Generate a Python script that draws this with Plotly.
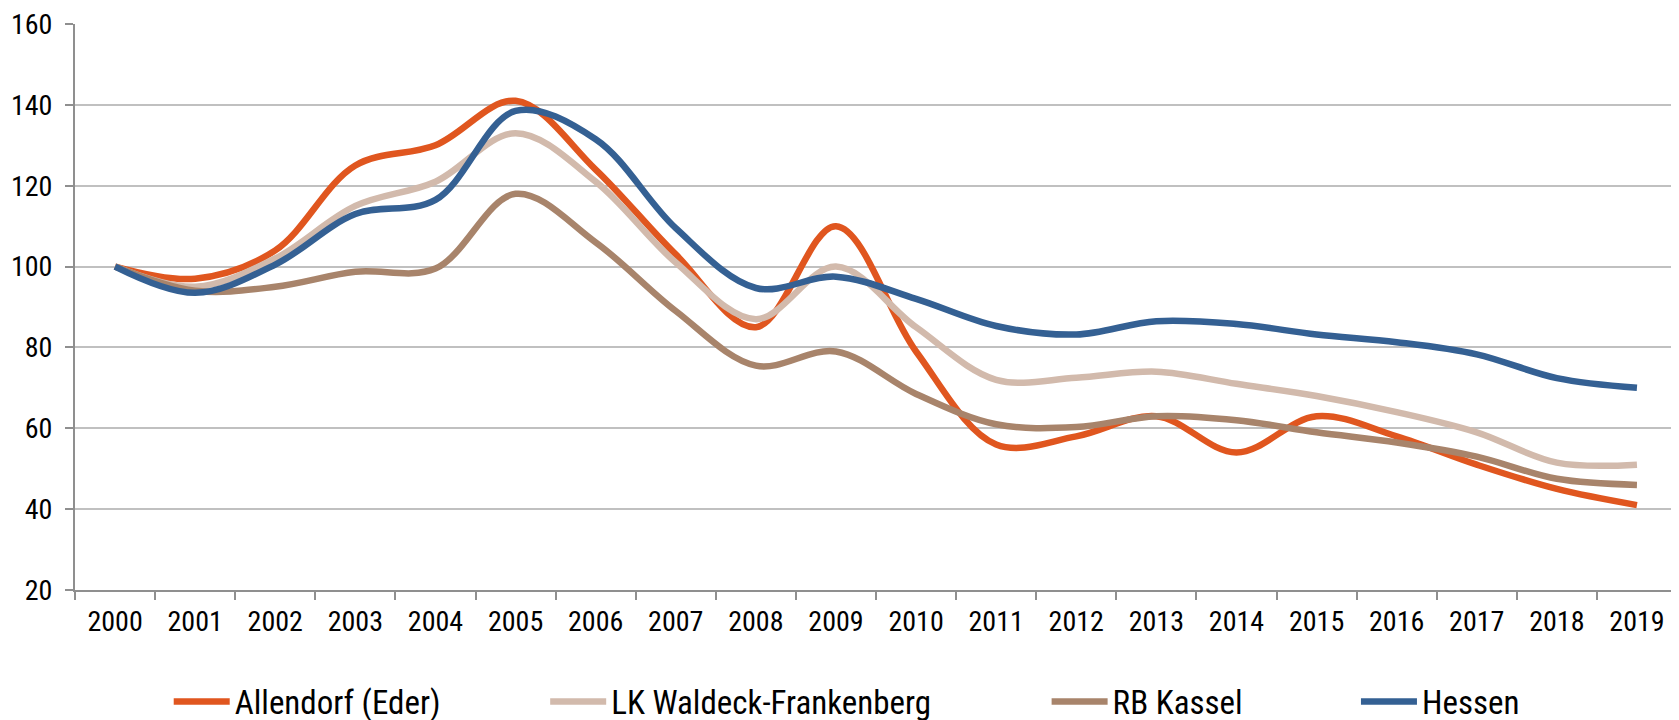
import plotly.graph_objects as go

years = [str(y) for y in range(2000, 2020)]

allendorf = [100, 97, 104, 125, 130, 141, 124, 103, 85, 110, 79, 56, 58, 63, 54, 63, 58, 51, 45, 41]
lk_waldeck = [100, 95, 102, 115, 121, 133, 121, 101, 87, 100, 85, 72, 72.5, 74, 71, 68, 64, 59, 51.5, 51]
rb_kassel = [100, 94, 95, 98.7, 99.5, 118, 106, 89, 75.5, 79, 68.5, 61, 60.3, 63, 62, 59, 56.5, 53, 47.5, 46]
hessen = [100, 93.5, 100.5, 113, 116.5, 138.5, 131.5, 109.5, 94.7, 97.5, 92, 85.3, 83.2, 86.5, 85.8, 83.2, 81.3, 78.3, 72.4, 70]

series = [
    ("Allendorf (Eder)", allendorf, "#E0561F", "legend", 0.0585),
    ("LK Waldeck-Frankenberg", lk_waldeck, "#D2BAAC", "legend2", 0.2935),
    ("RB Kassel", rb_kassel, "#A8846B", "legend3", 0.6065),
    ("Hessen", hessen, "#346093", "legend4", 0.7996),
]

FONT = "Liberation Sans Narrow, Arial Narrow, Roboto Condensed, Liberation Sans, Arial, sans-serif"

fig = go.Figure()
for name, vals, color, lg, _ in series:
    fig.add_trace(go.Scatter(
        x=years, y=vals, name=name, mode="lines",
        line=dict(color=color, width=6.5, shape="spline", smoothing=1),
        legend=lg,
    ))

legend_common = dict(
    orientation="h", yanchor="middle", y=-0.197, xanchor="left",
    font=dict(family=FONT, size=33, color="#000000"),
    bgcolor="rgba(0,0,0,0)", itemwidth=56, borderwidth=0,
)
layout_legends = {}
for name, vals, color, lg, lx in series:
    layout_legends[lg] = dict(legend_common, x=lx)

fig.update_layout(
    width=1671, height=712,
    margin=dict(l=67, r=2, t=16, b=129.5, autoexpand=False),
    paper_bgcolor="white", plot_bgcolor="white",
    font=dict(family=FONT, size=28, color="#000000"),
    showlegend=True,
    **layout_legends,
)
fig.update_xaxes(
    type="category", range=[-0.5, 19.5],
    tickson="boundaries", ticks="outside", ticklen=8, tickwidth=2, tickcolor="#8F8F8F",
    showline=True, linecolor="#8F8F8F", linewidth=2,
    showgrid=False, ticklabelstandoff=5, ticklabeloverflow="allow",
    tickfont=dict(family=FONT, size=28, color="#000000"),
)
fig.update_yaxes(
    range=[20, 160], dtick=20, tick0=20,
    ticks="outside", ticklen=8, tickwidth=2, tickcolor="#8F8F8F",
    showline=True, linecolor="#8F8F8F", linewidth=2,
    showgrid=True, gridcolor="#C0C0C0", gridwidth=2,
    zeroline=False, ticklabelstandoff=7, ticklabeloverflow="allow",
    tickfont=dict(family=FONT, size=28, color="#000000"),
)

fig.write_html("out.html")
